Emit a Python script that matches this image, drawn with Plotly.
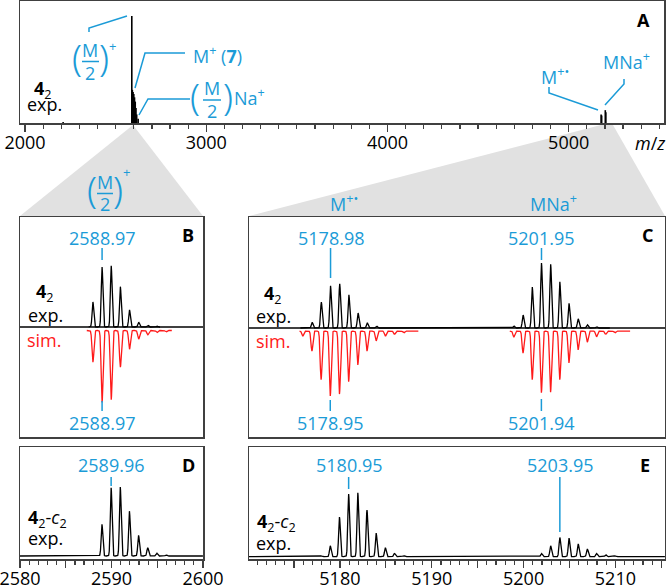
import numpy as np
import plotly.graph_objects as go

W, H = 666, 586
FONT = "Open Sans"
FS = 18
BLUE = "#1b9bd7"
RED = "#ff1a1a"
EDGE = "#404040"

# ---------------- data ----------------
# Panel A: overview spectrum (stick peaks, relative intensity)
mz_A = [2210, 2589, 2592, 2596, 2600, 2604, 2608, 2612, 2616, 2624, 5179, 5182, 5202, 5205]
int_A = [0.01, 1.0, 0.31, 0.29, 0.27, 0.24, 0.20, 0.14, 0.08, 0.04, 0.08, 0.07, 0.12, 0.10]
ticks_A = [2000, 3000, 4000, 5000]

# Panel B: (M/2)+ of 4_2, experiment and simulation
mz_B_exp = [2587.97, 2588.97, 2589.97, 2590.97, 2591.97, 2592.97, 2593.97, 2594.97]
int_B_exp = [41, 98, 100, 66, 28, 8, 3, 1.5]
mz_B_sim = [2587.97, 2588.97, 2589.97, 2590.97, 2591.97, 2592.97, 2593.97, 2594.97, 2595.97]
int_B_sim = [44, 100, 96, 51, 26, 12, 6, 3, 2]

# Panel C: M+. and MNa+ of 4_2
mz_C_exp = [5176.98, 5177.98, 5178.98, 5179.98, 5180.98, 5181.98, 5182.98, 5183.98,
            5198.95, 5199.95, 5200.95, 5201.95, 5202.95, 5203.95, 5204.95, 5205.95, 5206.95, 5207.95]
int_C_exp = [9, 40, 65, 68, 51, 23, 8, 3,
             3, 20, 63, 100, 98, 71, 38, 14, 5, 2]
mz_C_sim1 = [5175.95, 5176.95, 5177.95, 5178.95, 5179.95, 5180.95, 5181.95, 5182.95,
             5183.95, 5184.95, 5185.95, 5186.95]
int_C_sim1 = [8, 31, 75, 100, 97, 78, 52, 31, 15, 8, 5, 3]
mz_C_sim2 = [5198.94, 5199.94, 5200.94, 5201.94, 5202.94, 5203.94, 5204.94, 5205.94,
             5206.94, 5207.94, 5208.94, 5209.94]
int_C_sim2 = [9, 34, 75, 95, 94, 75, 49, 29, 17, 9, 5, 3]

# Panel D: 4_2-c_2 (M/2)+
mz_D = [2588.96, 2589.96, 2590.96, 2591.96, 2592.96, 2593.96, 2594.96, 2595.96]
int_D = [46, 99, 100, 65, 30, 12, 4, 1.5]

# Panel E: 4_2-c_2 M+ and MNa+
mz_E = [5177.95, 5178.95, 5179.95, 5180.95, 5181.95, 5182.95, 5183.95, 5184.95, 5185.95, 5186.95,
        5194.95, 5195.95, 5196.95, 5197.95, 5198.95, 5199.95, 5200.95,
        5201.95, 5202.95, 5203.95, 5204.95, 5205.95, 5206.95, 5207.95, 5208.95, 5209.95]
int_E = [1.5, 17, 62, 98, 100, 73, 37, 14, 5, 1.5,
         1.1, 1.1, 1.1, 1.1, 1.1, 1.1, 1.1,
         5, 17, 30, 29, 20, 12, 5, 3, 1.5]

# labelled masses
lab_B_top, lab_B_bot = 2588.97, 2588.97
lab_C_top = [5178.98, 5201.95]
lab_C_bot = [5178.95, 5201.94]
lab_D = 2589.96
lab_E = [5180.95, 5203.95]


# ---------------- helpers ----------------
def px(x):
    return x / W


def py(y):
    return 1 - y / H


def profile(mz, inten, lo, hi, sigma=0.09, step=0.01):
    x = np.arange(lo, hi, step)
    y = np.zeros_like(x)
    for m, h in zip(mz, inten):
        y += h * np.exp(-0.5 * ((x - m) / sigma) ** 2)
    return x, y


fig = go.Figure()

# Panel A sticks
xs, ys = [], []
for m, h in zip(mz_A, int_A):
    xs += [m, m, None]
    ys += [0, h, None]
fig.add_trace(go.Scatter(x=xs, y=ys, mode="lines", line=dict(color="black", width=1.6),
                         xaxis="x", yaxis="y", hoverinfo="skip"))

# Panel B
x, y = profile(mz_B_exp, int_B_exp, 2587.5, 2595.3)
fig.add_trace(go.Scatter(x=x, y=y, mode="lines", line=dict(color="black", width=1.3),
                         xaxis="x2", yaxis="y2"))
x, y = profile(mz_B_sim, int_B_sim, 2587.3, 2596.6, sigma=0.1)
fig.add_trace(go.Scatter(x=x, y=-y, mode="lines", line=dict(color=RED, width=1.3),
                         xaxis="x2", yaxis="y3"))

# Panel C
x, y = profile(mz_C_exp, int_C_exp, 5175.7, 5209.4)
fig.add_trace(go.Scatter(x=x, y=y, mode="lines", line=dict(color="black", width=1.3),
                         xaxis="x3", yaxis="y4"))
x1, y1 = profile(mz_C_sim1, int_C_sim1, 5175.6, 5188.55, sigma=0.1)
x2, y2 = profile(mz_C_sim2, int_C_sim2, 5198.5, 5211.6, sigma=0.1)
fig.add_trace(go.Scatter(x=np.concatenate([x1, [np.nan], x2]),
                         y=np.concatenate([-y1, [np.nan], -y2]),
                         mode="lines", line=dict(color=RED, width=1.3),
                         xaxis="x3", yaxis="y5", connectgaps=False))

# Panel D
x, y = profile(mz_D, int_D, 2580, 2600)
fig.add_trace(go.Scatter(x=x, y=y, mode="lines", line=dict(color="black", width=1.3),
                         xaxis="x4", yaxis="y6"))
# Panel E
x, y = profile(mz_E, int_E, 5170.1, 5215.4)
fig.add_trace(go.Scatter(x=x, y=y, mode="lines", line=dict(color="black", width=1.3),
                         xaxis="x5", yaxis="y7"))

# ---------------- axes ----------------
AX = dict(showline=True, mirror=True, linecolor=EDGE, linewidth=1.5, showgrid=False,
          zeroline=False, ticks="", showticklabels=False, fixedrange=True, automargin=False)
TF = dict(family=FONT, size=FS, color="black")
TICKX = dict(ticks="outside", ticklen=7, tickwidth=1.3, tickcolor=EDGE, showticklabels=True,
             tickfont=TF, ticklabelstandoff=-4, ticklabeloverflow="allow")

xA = [px(20), px(664)]
xB = [px(20), px(203)]
xC = [px(249), px(665)]
yA = [py(123), py(1)]
yBC = [py(437), py(217)]
yDE = [py(559), py(447)]

fig.update_layout(
    template="none",
    xaxis=dict(AX, **TICKX, domain=xA, range=[1972, 5526], anchor="y", tickvals=ticks_A,
               minor=dict(dtick=100, tick0=0, ticks="outside", ticklen=4, tickwidth=1.2,
                          tickcolor=EDGE, showgrid=False)),
    yaxis=dict(AX, domain=yA, range=[0, 1.14], anchor="x"),
    xaxis2=dict(AX, domain=xB, range=[2580, 2600], anchor="y2"),
    yaxis2=dict(AX, domain=yBC, range=[-180, 180], anchor="x2",
                zeroline=True, zerolinecolor=EDGE, zerolinewidth=1.4),
    yaxis3=dict(domain=yBC, range=[-147.9, 157.6], overlaying="y2", anchor="x2",
                visible=False, automargin=False),
    xaxis3=dict(AX, domain=xC, range=[5170.1, 5215.4], anchor="y4"),
    yaxis4=dict(AX, domain=yBC, range=[-167.7, 170.8], anchor="x3",
                zeroline=True, zerolinecolor=EDGE, zerolinewidth=1.4),
    yaxis5=dict(domain=yBC, range=[-163, 175.4], overlaying="y4", anchor="x3",
                visible=False, automargin=False),
    xaxis4=dict(AX, **TICKX, domain=xB, range=[2580, 2600], anchor="y6",
                tickvals=[2580, 2585, 2590, 2595, 2600],
                ticktext=["2580", "", "2590", "", "2600"],
                minor=dict(dtick=1, tick0=2580, ticks="outside", ticklen=4, tickwidth=1.2,
                           tickcolor=EDGE, showgrid=False)),
    yaxis6=dict(AX, domain=yDE, range=[-4.35, 158], anchor="x4"),
    xaxis5=dict(AX, **TICKX, domain=xC, range=[5170.1, 5215.4], anchor="y7",
                tickvals=[5175, 5180, 5185, 5190, 5195, 5200, 5205, 5210, 5215],
                ticktext=["", "5180", "", "5190", "", "5200", "", "5210", ""],
                minor=dict(dtick=1, tick0=5170, ticks="outside", ticklen=4, tickwidth=1.2,
                           tickcolor=EDGE, showgrid=False)),
    yaxis7=dict(AX, domain=yDE, range=[-3.6, 171.4], anchor="x5"),
    width=W, height=H, margin=dict(l=0, r=0, t=0, b=0, pad=0, autoexpand=False),
    paper_bgcolor="white", plot_bgcolor="white", showlegend=False,
    font=dict(family=FONT, size=FS, color="black"),
)

# ---------------- shapes ----------------
shapes = []
GRAY = "#e1e1e1"


def path(pts, close=False):
    s = "M " + " L ".join(f"{px(a):.5f},{py(b):.5f}" for a, b in pts)
    return s + (" Z" if close else "")


shapes.append(dict(type="path", xref="paper", yref="paper", layer="below",
                   path=path([(133, 125), (203, 216), (20, 216)], True),
                   fillcolor=GRAY, line=dict(width=0)))
shapes.append(dict(type="path", xref="paper", yref="paper", layer="below",
                   path=path([(601, 125), (613, 125), (665, 216), (249, 216)], True),
                   fillcolor=GRAY, line=dict(width=0)))

# leader lines in panel A
for pts in [[(89, 32), (89, 28), (127, 16)],
            [(185, 53), (145, 53), (135, 88)],
            [(190, 99), (148, 99), (139, 115)],
            [(549, 87), (549, 93), (598, 110)],
            [(624, 79), (624, 84), (605, 105)]]:
    shapes.append(dict(type="path", xref="paper", yref="paper", path=path(pts),
                       line=dict(color=BLUE, width=1.5)))

# fraction bars
for x0, x1, yy in [(82, 99, 61.5), (203, 221, 100), (97, 113, 193.5)]:
    shapes.append(dict(type="line", xref="paper", yref="paper",
                       x0=px(x0), x1=px(x1), y0=py(yy), y1=py(yy),
                       line=dict(color=BLUE, width=1.5)))


# mass marker ticks (x in data coordinates)
def vtick(xref, m, y0, y1):
    shapes.append(dict(type="line", xref=xref, yref="paper", x0=m, x1=m,
                       y0=py(y0), y1=py(y1), line=dict(color=BLUE, width=1.5)))


vtick("x2", lab_B_top, 248, 260)
vtick("x2", lab_B_bot, 401, 411)
vtick("x3", lab_C_top[0], 248, 278)
vtick("x3", lab_C_top[1], 248, 260)
vtick("x3", lab_C_bot[0], 400, 411)
vtick("x3", lab_C_bot[1], 399, 411)
vtick("x4", lab_D, 477, 486)
vtick("x5", lab_E[0], 477, 489)
vtick("x5", lab_E[1], 477, 532)

fig.update_layout(shapes=shapes)

# ---------------- annotations ----------------
anns = []


def T(text, x, y, size=FS, color="black", xanchor="center", xref="paper", yanchor="middle",
      weight=None, family=FONT):
    f = dict(family=family, size=size, color=color)
    if weight:
        f["weight"] = weight
    anns.append(dict(text=text, x=(px(x) if xref == "paper" else x), y=py(y),
                     xref=xref, yref="paper", xanchor=xanchor, yanchor=yanchor,
                     showarrow=False, font=f, borderpad=0))


def frac(xc, yc, left, right, sup=None):
    # (M/2) with tall parentheses
    T("(", left, yc - 4, size=36, color=BLUE, weight=300, family="Noto Sans, Open Sans")
    T(")", right, yc - 4, size=36, color=BLUE, weight=300, family="Noto Sans, Open Sans")
    T("M", xc, yc - 11.5, size=FS, color=BLUE)
    T("2", xc, yc + 11, size=FS, color=BLUE)
    if sup:
        T(sup[0], sup[1], sup[2], size=13, color=BLUE)


# Panel A
frac(90, 61.5, 76.5, 103.5, sup=("+", 112, 46))
T("M<sup>+</sup> (<b>7</b>)", 192, 55, color=BLUE, xanchor="left")
frac(212, 100, 195, 228)
T("Na<sup>+</sup>", 233, 97, color=BLUE, xanchor="left")
T("M<sup>+•</sup>", 540, 76, color=BLUE, xanchor="left")
T("MNa<sup>+</sup>", 602, 61, color=BLUE, xanchor="left")
T("<b>4</b><sub>2</sub>", 43, 89)
T("exp.", 44, 104)
T("<b>A</b>", 643, 20)
T("<i>m</i>/<i>z</i>", 650, 143)

# above B / C
frac(105, 193.5, 91.5, 118, sup=("+", 126, 172))
T("M<sup>+•</sup>", 329, 203, color=BLUE, xanchor="left")
T("MNa<sup>+</sup>", 529, 203, color=BLUE, xanchor="left")

# Panel B
T(f"{lab_B_top:.2f}", lab_B_top, 238, color=BLUE, xref="x2")
T(f"{lab_B_bot:.2f}", lab_B_bot, 423, color=BLUE, xref="x2")
T("<b>4</b><sub>2</sub>", 45, 292)
T("exp.", 45, 315)
T("sim.", 44, 340, color=RED)
T("<b>B</b>", 188, 235)

# Panel C
for m in lab_C_top:
    T(f"{m:.2f}", m, 238, color=BLUE, xref="x3")
for m in lab_C_bot:
    T(f"{m:.2f}", m, 423, color=BLUE, xref="x3")
T("<b>4</b><sub>2</sub>", 273, 294)
T("exp.", 273, 316)
T("sim.", 273, 341, color=RED)
T("<b>C</b>", 647, 235)

# Panel D
T(f"{lab_D:.2f}", lab_D, 465, color=BLUE, xref="x4")
T("<b>4</b><sub>2</sub>-<i>c</i><sub>2</sub>", 47, 518)
T("exp.", 45, 538)
T("<b>D</b>", 188, 465)

# Panel E
for m in lab_E:
    T(f"{m:.2f}", m, 465, color=BLUE, xref="x5")
T("<b>4</b><sub>2</sub>-<i>c</i><sub>2</sub>", 276, 522)
T("exp.", 273, 543)
T("<b>E</b>", 645, 465)

fig.update_layout(annotations=anns)
fig.write_html("out.html", config={"displayModeBar": False, "staticPlot": True},
               post_script="document.body.style.margin='0';document.body.style.overflow='hidden';")
